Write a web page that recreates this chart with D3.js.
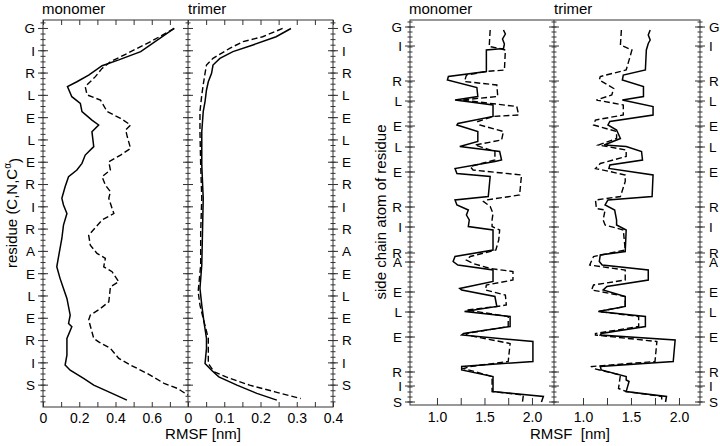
<!DOCTYPE html>
<html>
<head>
<meta charset="utf-8">
<script src="https://cdn.jsdelivr.net/npm/d3@7"></script>
<style>
body { margin: 0; background: #fff; }
svg { display: block; font-family: "Liberation Sans", Arial, sans-serif; }
</style>
</head>
<body>
<svg id="chart" width="720" height="446"></svg>
<script>
// residues, bottom (N-term) to top
var residues = ["S","I","R","E","L","E","A","R","I","R","E","L","E","L","R","I","G"];
// backbone plot: one residue per unit
var bbResPos = [0,1,2,3,4,5,6,7,8,9,10,11,12,13,14,15,16];
// side chain plot: residue label position in side-chain atom index
var scResPos = [0,3.2,6,13,18,22,28,29.8,35,39,46,51,55.2,60.2,64.2,71.2,75];

// x tick labels
var bbMonoTicks = [0,0.2,0.4,0.6];
var bbTriTicks = [0,0.1,0.2,0.3,0.4];
var scTicks = [1.0,1.5,2.0];

// backbone RMSF [position, nm]  solid / dashed
var bbMonoSolid = [[16.0,0.724],[14.96,0.539],[14.59,0.418],[14.33,0.326],[13.91,0.252],[13.61,0.187],[13.39,0.135],
  [12.94,0.159],[12.64,0.206],[12.27,0.215],[11.89,0.27],[11.67,0.307],[11.37,0.27],[10.70,0.28],[10.32,0.233],
  [9.95,0.215],[9.65,0.187],[9.35,0.141],[8.90,0.122],[8.38,0.104],[8.08,0.113],[7.70,0.132],[7.18,0.113],
  [6.58,0.104],[6.14,0.094],[5.31,0.076],[4.79,0.094],[4.34,0.113],[3.89,0.132],[3.14,0.15],[2.77,0.141],
  [2.62,0.159],[2.10,0.132],[1.35,0.132],[0.90,0.122],[0.67,0.15],[0.30,0.224],[0.0,0.28],[-0.37,0.381],[-0.67,0.463]];
var bbMonoDash = [[16.0,0.724],[15.41,0.594],[14.88,0.465],[14.51,0.372],[14.21,0.326],[13.84,0.289],[13.39,0.233],
  [13.02,0.243],[12.79,0.317],[12.27,0.354],[11.97,0.428],[11.67,0.483],[11.45,0.456],[11.14,0.465],[10.62,0.483],
  [10.32,0.428],[10.02,0.363],[9.65,0.372],[9.35,0.326],[8.98,0.344],[8.68,0.372],[8.38,0.363],[7.93,0.381],
  [7.70,0.391],[7.41,0.326],[6.73,0.252],[6.28,0.261],[5.91,0.298],[5.69,0.344],[5.31,0.335],[5.09,0.381],
  [4.64,0.418],[4.41,0.372],[3.74,0.363],[3.44,0.317],[3.14,0.261],[2.92,0.252],[2.10,0.28],[1.94,0.307],
  [1.65,0.372],[1.20,0.418],[0.90,0.483],[0.52,0.576],[0.08,0.668],[-0.15,0.743],[-0.45,0.80]];
var bbTriSolid = [[16.0,0.284],[15.63,0.243],[15.26,0.179],[14.96,0.124],[14.66,0.088],[14.36,0.069],[13.99,0.065],
  [13.61,0.056],[13.24,0.051],[12.72,0.047],[12.27,0.042],[11.37,0.038],[9.87,0.038],[8.38,0.042],[6.88,0.040],
  [5.39,0.038],[4.34,0.033],[3.59,0.038],[2.84,0.044],[2.10,0.051],[1.65,0.051],[0.97,0.047],[0.67,0.065],
  [0.37,0.085],[0.0,0.135],[-0.37,0.19],[-0.67,0.245]];
var bbTriDash = [[16.0,0.261],[15.63,0.206],[15.41,0.152],[15.11,0.115],[14.66,0.069],[14.36,0.051],[13.99,0.047],
  [13.47,0.042],[13.02,0.038],[12.27,0.033],[11.37,0.033],[9.87,0.035],[8.38,0.038],[6.88,0.035],[5.39,0.035],
  [4.19,0.028],[3.59,0.033],[2.99,0.042],[2.10,0.056],[1.20,0.056],[0.97,0.056],[0.6,0.072],[0.37,0.105],
  [0.0,0.17],[-0.3,0.24],[-0.6,0.311]];

// side chain RMSF [atom index, nm]
var scMonoSolid = [[74.4,1.70],[73.6,1.72],[72.6,1.69],[71.6,1.71],[70.7,1.70],[70.4,1.52],[66.1,1.52],[65.1,1.12],
  [64.4,1.11],[62.9,1.42],[61.1,1.43],[60.4,1.19],[59.4,1.59],[57.1,1.59],[55.7,1.22],[55.4,1.21],[54.1,1.43],
  [52.1,1.43],[51.1,1.24],[50.1,1.66],[48.4,1.68],[48.1,1.61],[46.7,1.19],[45.7,1.21],[45.1,1.56],[41.1,1.54],
  [40.4,1.19],[39.4,1.21],[38.4,1.33],[37.4,1.31],[36.4,1.34],[35.1,1.33],[34.4,1.59],[30.4,1.59],[29.1,1.19],
  [28.1,1.17],[27.4,1.22],[26.4,1.59],[24.1,1.59],[22.7,1.24],[22.4,1.26],[21.1,1.61],[19.1,1.63],[18.1,1.29],
  [17.1,1.77],[15.1,1.77],[13.7,1.28],[13.4,1.26],[12.1,2.01],[8.1,2.01],[7.1,1.26],[6.4,1.26],[5.1,1.59],
  [2.1,1.59],[1.1,2.12],[0,2.10]];
var scMonoDash = [[74.4,1.56],[71.1,1.55],[70.7,1.66],[70.4,1.72],[66.4,1.71],[66.1,1.52],[65.4,1.31],[64.1,1.29],
  [63.4,1.63],[61.1,1.64],[60.4,1.26],[59.1,1.84],[57.4,1.86],[57.1,1.59],[56.1,1.43],[55.4,1.45],[54.1,1.70],
  [52.4,1.68],[51.4,1.40],[50.1,1.61],[48.4,1.61],[47.1,1.35],[46.4,1.38],[45.4,1.89],[41.4,1.87],[40.4,1.52],
  [40.1,1.49],[39.1,1.56],[37.7,1.59],[36.4,1.58],[35.1,1.58],[34.4,1.66],[32.4,1.65],[30.4,1.62],[29.1,1.35],
  [28.4,1.31],[27.7,1.38],[26.7,1.56],[26.1,1.80],[24.4,1.80],[23.4,1.52],[22.4,1.51],[21.4,1.72],[19.4,1.73],
  [19.1,1.63],[18.4,1.31],[17.1,1.75],[15.1,1.75],[13.7,1.31],[13.4,1.31],[11.7,1.77],[8.1,1.75],[7.1,1.35],
  [6.7,1.28],[5.1,1.58],[2.1,1.58],[1.4,1.91],[0,1.90]];
var scTriSolid = [[74.4,1.70],[73.4,1.68],[72.4,1.70],[71.7,1.68],[70.4,1.66],[66.4,1.65],[65.4,1.42],[64.4,1.41],
  [63.1,1.63],[61.1,1.63],[60.4,1.41],[59.1,1.73],[57.4,1.73],[56.1,1.28],[55.4,1.26],[54.4,1.35],[52.7,1.39],
  [51.4,1.22],[51.1,1.45],[50.1,1.61],[48.4,1.62],[47.4,1.28],[46.7,1.27],[45.4,1.73],[41.1,1.72],[40.4,1.26],
  [39.4,1.23],[38.4,1.33],[36.4,1.35],[35.4,1.35],[34.4,1.45],[30.1,1.44],[29.4,1.18],[28.1,1.17],[27.4,1.20],
  [26.4,1.68],[24.4,1.68],[23.1,1.25],[22.4,1.21],[21.1,1.44],[19.1,1.44],[18.1,1.16],[17.1,1.65],[15.1,1.65],
  [13.7,1.19],[13.4,1.18],[12.4,1.96],[8.1,1.94],[7.1,1.18],[6.4,1.19],[5.1,1.45],[4.4,1.45],[4.1,1.48],
  [2.1,1.45],[1.1,1.87],[0,1.86]];
var scTriDash = [[74.4,1.40],[71.4,1.39],[70.4,1.51],[66.4,1.45],[65.1,1.18],[64.4,1.17],[62.7,1.32],[61.4,1.30],
  [60.4,1.14],[59.4,1.42],[57.4,1.42],[56.4,1.13],[55.4,1.11],[54.1,1.35],[52.7,1.35],[51.4,1.16],[50.4,1.45],
  [49.1,1.45],[47.7,1.18],[46.7,1.13],[46.1,1.28],[45.4,1.44],[44.1,1.44],[41.1,1.39],[40.4,1.13],[38.7,1.14],
  [38.4,1.23],[36.4,1.21],[35.4,1.23],[34.4,1.42],[30.4,1.44],[29.1,1.11],[27.4,1.07],[26.4,1.44],[24.4,1.44],
  [23.4,1.11],[22.4,1.09],[22.1,1.18],[21.1,1.44],[19.1,1.44],[18.1,1.16],[17.1,1.58],[15.1,1.58],[13.7,1.13],
  [13.4,1.13],[12.1,1.77],[8.1,1.75],[7.1,1.09],[6.7,1.11],[5.4,1.39],[2.7,1.37],[2.1,1.45],[1.1,1.82],[0,1.82]];

var svg = d3.select("#chart");
var AXIS = "#333";

function drawChart(c) {
	var g = svg.append("g");
	var yS = d3.scaleLinear().domain(c.yDomain).range([c.bottom, c.top]);
	var xA = d3.scaleLinear().domain(c.xDomA).range([c.x0, c.xm]);
	var xB = d3.scaleLinear().domain(c.xDomB).range([c.xm, c.x1]);

	// curves
	var panels = [[xA, c.monoSolid, c.monoDash], [xB, c.triSolid, c.triDash]];
	panels.forEach(function(p) {
		var line = d3.line().x(function(d) { return p[0](d[1]); }).y(function(d) { return yS(d[0]); });
		g.append("path").datum(p[1]).attr("d", line)
			.attr("fill", "none").attr("stroke", "#000").attr("stroke-width", 1.5);
		g.append("path").datum(p[2]).attr("d", line)
			.attr("fill", "none").attr("stroke", "#000").attr("stroke-width", 1.4)
			.attr("stroke-dasharray", "6,3");
	});

	// frame + divider
	g.append("rect").attr("x", c.x0).attr("y", c.top)
		.attr("width", c.x1 - c.x0).attr("height", c.bottom - c.top)
		.attr("fill", "none").attr("stroke", AXIS).attr("stroke-width", 1);
	g.append("line").attr("x1", c.xm).attr("x2", c.xm).attr("y1", c.top).attr("y2", c.bottom)
		.attr("stroke", AXIS).attr("stroke-width", 1);

	// y ticks crossing the three vertical lines
	[c.x0, c.xm, c.x1].forEach(function(xv) {
		g.selectAll(null).data(c.yMinor).enter().append("line")
			.attr("x1", xv - 2.5).attr("x2", xv + 2.5)
			.attr("y1", function(d) { return yS(d); }).attr("y2", function(d) { return yS(d); })
			.attr("stroke", AXIS).attr("stroke-width", 1);
		g.selectAll(null).data(c.yMajor).enter().append("line")
			.attr("x1", xv - 5).attr("x2", xv + 5)
			.attr("y1", function(d) { return yS(d); }).attr("y2", function(d) { return yS(d); })
			.attr("stroke", AXIS).attr("stroke-width", 1);
	});

	// residue labels on both sides
	var lab = [[c.x0 - 8, "end"], [c.x1 + 9, "start"]];
	lab.forEach(function(l) {
		g.selectAll(null).data(c.yMajor).enter().append("text")
			.attr("x", l[0]).attr("y", function(d) { return yS(d); })
			.attr("dy", "0.36em").attr("text-anchor", l[1])
			.attr("font-size", 13.5).text(function(d, i) { return residues[i]; });
	});

	// x axes
	[[xA, c.minorA, c.ticksA], [xB, c.minorB, c.ticksB]].forEach(function(p) {
		var ax = d3.axisBottom(p[0]).tickValues(p[1]).tickSize(-c.tickLen)
			.tickFormat(function(d) {
				var hit = p[2].some(function(t) { return Math.abs(t - d) < 1e-6; });
				return hit ? c.fmt(d) : "";
			});
		var ga = g.append("g").attr("transform", "translate(0," + c.bottom + ")").call(ax);
		ga.select(".domain").remove();
		ga.selectAll("line").attr("stroke", AXIS);
		ga.selectAll("text").attr("y", c.labelGap).attr("dy", "0.71em")
			.attr("font-size", 14).attr("fill", "#000")
			.attr("font-family", "Liberation Sans, Arial, sans-serif");
		if (c.topTicks) {
			var at = d3.axisTop(p[0]).tickValues(p[1]).tickSize(-c.tickLen).tickFormat("");
			var gt = g.append("g").attr("transform", "translate(0," + c.top + ")").call(at);
			gt.select(".domain").remove();
			gt.selectAll("line").attr("stroke", AXIS);
		}
	});

	// panel titles
	g.append("text").attr("x", c.x0 - 1).attr("y", 13.5).attr("font-size", 15).text("monomer");
	g.append("text").attr("x", c.xm).attr("y", 13.5).attr("font-size", 15).text("trimer");

	// x title
	g.append("text").attr("x", c.xTitleX).attr("y", 439).attr("text-anchor", "middle")
		.attr("font-size", 15).style("white-space", "pre").text(c.xTitle);

	// y title
	var yt = g.append("text")
		.attr("transform", "translate(" + c.yTitleX + "," + c.yTitleY + ") rotate(-90)")
		.attr("text-anchor", "middle").attr("font-size", 15);
	yt.append("tspan").text(c.yTitle);
	if (c.yTitleSup) {
		yt.append("tspan").attr("font-size", 10).attr("dy", "-0.6em").text(c.yTitleSup);
		yt.append("tspan").attr("dy", "0.6em").attr("font-size", 15).text(")");
	}
}

drawChart({
	x0: 43, xm: 188, x1: 333, top: 20, bottom: 407,
	yDomain: [-0.98, 16.38], xDomA: [0, 0.8], xDomB: [0, 0.4],
	yMajor: bbResPos, yMinor: d3.range(-0.75, 16.3, 0.25),
	minorA: d3.range(0, 0.75, 0.1), ticksA: bbMonoTicks,
	minorB: d3.range(0, 0.41, 0.05), ticksB: bbTriTicks,
	fmt: function(d) { return d === 0 ? "0" : d3.format(".1f")(d); },
	tickLen: 5, labelGap: 6, topTicks: true,
	monoSolid: bbMonoSolid, monoDash: bbMonoDash, triSolid: bbTriSolid, triDash: bbTriDash,
	xTitle: "RMSF [nm]", xTitleX: 203,
	yTitle: "residue (C,N,C", yTitleSup: "\u03b1", yTitleX: 17, yTitleY: 213
});

drawChart({
	x0: 410, xm: 554, x1: 700, top: 20, bottom: 405,
	yDomain: [-0.6, 76.4], xDomA: [0.716, 2.232], xDomB: [0.698, 2.219],
	yMajor: scResPos, yMinor: d3.range(0, 77, 1),
	minorA: [1.0, 1.25, 1.5, 1.75, 2.0], ticksA: scTicks,
	minorB: [1.0, 1.25, 1.5, 1.75, 2.0], ticksB: scTicks,
	fmt: d3.format(".1f"),
	tickLen: 7, labelGap: 7, topTicks: false,
	monoSolid: scMonoSolid, monoDash: scMonoDash, triSolid: scTriSolid, triDash: scTriDash,
	xTitle: "RMSF  [nm]", xTitleX: 570,
	yTitle: "side chain atom of residue", yTitleSup: null, yTitleX: 386, yTitleY: 212
});
</script>
</body>
</html>
